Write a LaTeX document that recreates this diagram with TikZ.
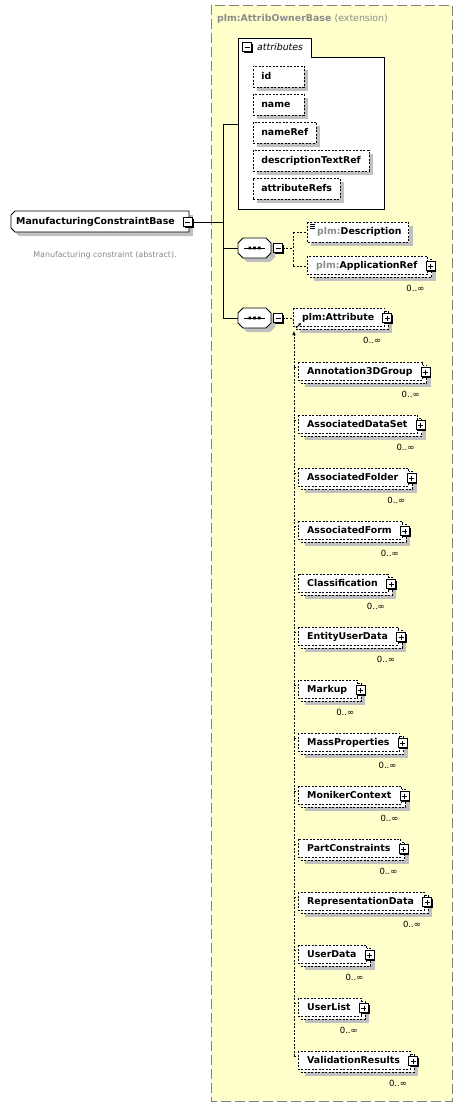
\documentclass[tikz,border=0pt]{standalone}
\usepackage{fontspec}
\setmainfont{DejaVu Sans}
\usetikzlibrary{calc,shadows,arrows.meta}
\pgfdeclarelayer{ext}
\pgfdeclarelayer{bg}
\pgfsetlayers{ext,bg,main}
\definecolor{extfill}{RGB}{255,255,204}
\definecolor{extborder}{RGB}{128,128,128}
\definecolor{shadowc}{RGB}{192,192,192}
\definecolor{nsgray}{RGB}{140,140,140}
\definecolor{docgray}{RGB}{136,136,136}
\newcommand\eltfont{\fontsize{9.4}{11}\selectfont\bfseries}

% stacked (0..inf) element: name, box left, top, text
\newcommand\stackel[4]{%
  \node[elt] (#1) at ({#2+9},{#3+10}) {#4};
  \coordinate (#1E) at (#1.east);
  \coordinate (#1W) at (#2,{#3+10});
  \begin{pgfonlayer}{bg}
    \fill[shadowc] ({#2+7},{#3+7}) rectangle ($(#1E)+(18,15)$);
    \path[dbox] ({#2+3},{#3+3}) rectangle ($(#1E)+(14,11)$);
    \path[dbox] (#2,#3) rectangle ($(#1E)+(10,8)$);
  \end{pgfonlayer}
  \node[plusbox] (#1pm) at ($(#1E)+(13,0)$) {};
  \node[mult] (#1m) at ($(#1E)+(7,22)$) {0..∞};
}
\newcommand\childel[3]{%
  \stackel{#1}{298}{#2}{#3}%
  \coordinate (#1T) at (298,{#2+5});
  \coordinate (#1L) at (294,{#2+5});
  \draw[dline] (#1L) -- (#1T);
}
\newcommand\seqel[2]{%
  \begin{scope}[shift={(254.5,#2)}]
    \fill[shadowc] (-12.5,-1) -- (-7.5,-6) -- (15.5,-6) -- (20.5,-1) -- (20.5,9) -- (15.5,14) -- (-7.5,14) -- (-12.5,9) -- cycle;
    \draw[sbox] (-16.5,-5) -- (-11.5,-10) -- (11.5,-10) -- (16.5,-5) -- (16.5,5) -- (11.5,10) -- (-11.5,10) -- (-16.5,5) -- cycle;
    \draw[line width=1pt] (-10.5,0) -- (10.5,0);
    \fill (-6,-1.4) rectangle (-3.4,1.4) (-1.3,-1.4) rectangle (1.3,1.4) (3.4,-1.4) rectangle (6,1.4);
    \coordinate (#1) at (0,0);
    \coordinate (#1W) at (-16.5,0);
  \end{scope}
  \node[minusbox] (#1pm) at (278,#2) {};
}

\begin{document}
\begin{tikzpicture}[x=1pt,y=-1pt,
  elt/.style={font=\eltfont, inner sep=0pt, anchor=west, text height=7pt, text depth=2pt},
  mult/.style={font=\fontsize{8.5}{10}\selectfont, inner sep=0pt, anchor=east},
  dbox/.style={draw=black, fill=white, line width=0.6pt, dash pattern=on 2pt off 1.5pt},
  sbox/.style={draw=black, fill=white, line width=0.8pt},
  tree/.style={line width=0.8pt},
  dline/.style={line width=0.6pt, dash pattern=on 2pt off 1.5pt},
  pmbase/.style={draw, fill=white, minimum size=9pt, inner sep=0pt, line width=0.7pt,
    drop shadow={shadow xshift=1.2pt, shadow yshift=-1.2pt, fill=black, opacity=1}},
  plusbox/.style={pmbase, path picture={\draw[line width=0.7pt]
    ([xshift=2pt]path picture bounding box.west) -- ([xshift=-2pt]path picture bounding box.east)
    ([yshift=-2pt]path picture bounding box.north) -- ([yshift=2pt]path picture bounding box.south);}},
  minusbox/.style={pmbase, path picture={\draw[line width=0.7pt]
    ([xshift=2pt]path picture bounding box.west) -- ([xshift=-2pt]path picture bounding box.east);}},
  attrel/.style={dbox, font=\eltfont, anchor=west, inner xsep=8pt, inner ysep=0pt,
    minimum height=21pt, text height=7pt, text depth=2pt,
    drop shadow={shadow xshift=4pt, shadow yshift=-4pt, fill=shadowc, opacity=1}},
]
\useasboundingbox (0,0) rectangle (463,1108);

% extension box
\begin{pgfonlayer}{ext}
  \draw[extborder, fill=extfill, line width=0.9pt, dash pattern=on 10pt off 4pt] (211,5) rectangle (452,1101);
\end{pgfonlayer}
\node[font=\eltfont, anchor=west, inner sep=0pt, text=nsgray] (exttitle) at (217,19)
  {plm:AttribOwnerBase {\mdseries (extension)}};

% root element
\node[elt] (root) at (16,222) {ManufacturingConstraintBase};
\coordinate (rE) at (root.east);
\begin{pgfonlayer}{bg}
  \fill[shadowc] (15,219) -- (19,215) -- ($(rE)+(18,-7)$) -- ($(rE)+(18,14)$) -- (19,236) -- (15,232) -- cycle;
  \draw[sbox] (11,215) -- (15,211) -- ($(rE)+(14,-11)$) -- ($(rE)+(14,10)$) -- (15,232) -- (11,228) -- cycle;
\end{pgfonlayer}
\node[minusbox] (rootpm) at ($(rE)+(13,0)$) {};
\node[font=\fontsize{7.9}{9}\selectfont, text=docgray, inner sep=0pt] (rootdoc) at (105,255)
  {Manufacturing constraint (abstract).};

% attributes group
\draw[line width=0.8pt, fill=white] (238,209) -- (238,38) -- (311,38) -- (311,57) -- (384,57) -- (384,209) -- cycle;
\coordinate (attrW) at (238,124);
\node[minusbox, drop shadow={shadow xshift=0pt, shadow yshift=0pt, opacity=0}] (attrpm) at (247,47) {};
\node[font=\fontsize{9.4}{11}\selectfont\itshape, anchor=west, inner sep=0pt] (attrlabel) at (257,47) {attributes};
\node[attrel] (aid) at (253,76.5) {\makebox[35pt][l]{id}};
\node[attrel] (aname) at (253,104.5) {\makebox[35pt][l]{name}};
\node[attrel] (anameref) at (253,132.5) {nameRef};
\node[attrel] (adesc) at (253,160.5) {descriptionTextRef};
\node[attrel] (arefs) at (253,188.5) {attributeRefs};

% tree spine
\coordinate (j1) at (223,124);
\coordinate (j2) at (223,222);
\coordinate (j3) at (223,248);
\coordinate (j4) at (223,318);
\draw[tree] (rootpm.east) -- (j2);
\draw[tree] (j1) -- (j4);
\draw[tree] (j1) -- (attrW);

% sequence 1
\seqel{seqa}{248}
\draw[tree] (j3) -- (seqaW);
\coordinate (sa1) at (293,248);
\coordinate (sa2) at (293,232);
\coordinate (sa3) at (293,266);
\draw[dline] (seqapm.east) -- (sa1);
\draw[dline] (sa2) -- (sa3);

\node[elt] (desc) at (317,232) {\textcolor{nsgray}{plm:}Description};
\coordinate (descE) at (desc.east);
\coordinate (descW) at (307,232);
\begin{pgfonlayer}{bg}
  \fill[shadowc] (311,226) rectangle ($(descE)+(11,14)$);
  \path[dbox] (307,222) rectangle ($(descE)+(7,10)$);
\end{pgfonlayer}
\draw[line width=0.5pt] (310,224) -- (315,224) (310,226) -- (315,226) (310,228) -- (315,228);
\draw[dline] (sa2) -- (descW);

\stackel{appref}{307}{256}{\textcolor{nsgray}{plm:}ApplicationRef}
\draw[dline] (sa3) -- (apprefW);

% sequence 2
\seqel{seqb}{318}
\draw[tree] (j4) -- (seqbW);
\stackel{attribute}{293}{308}{plm:Attribute}
\draw[dline] (seqbpm.east) -- (attributeW);
\draw[-{Stealth[length=3pt,width=3pt]}, line width=0.8pt] (296,328) -- (301,323);

% substitution group members
\coordinate (subtop) at (294,331);
\coordinate (subbot) at (294,1056);
\draw[dline, -{Latex[length=4pt,width=3.5pt]}] (subbot) -- (subtop);

\childel{ca}{362}{Annotation3DGroup}
\childel{cb}{415}{AssociatedDataSet}
\childel{cc}{468}{AssociatedFolder}
\childel{cd}{521}{AssociatedForm}
\childel{ce}{574}{Classification}
\childel{cf}{627}{EntityUserData}
\childel{cg}{680}{Markup}
\childel{ch}{733}{MassProperties}
\childel{ci}{786}{MonikerContext}
\childel{cj}{839}{PartConstraints}
\childel{ck}{892}{RepresentationData}
\childel{cl}{945}{UserData}
\childel{cm}{998}{UserList}
\childel{cn}{1051}{ValidationResults}
\end{tikzpicture}
\end{document}
